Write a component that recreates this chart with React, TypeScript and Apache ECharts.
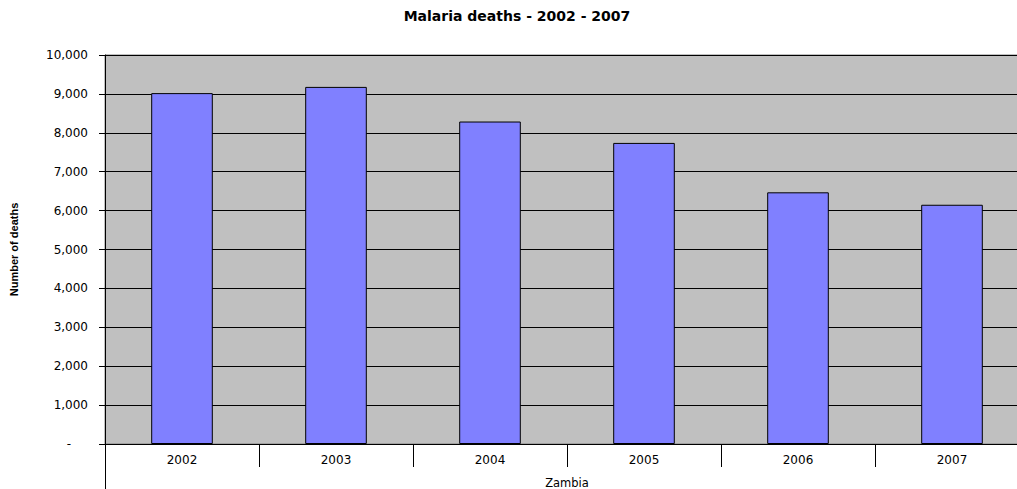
import React, { useEffect, useRef } from "react";
import * as echarts from "echarts";

const TITLE = "Malaria deaths - 2002 - 2007";
const years = ["2002", "2003", "2004", "2005", "2006", "2007"];
const deaths = [9020, 9180, 8290, 7740, 6470, 6150];
const groupLabels = ["Zambia"];
const yAxisName = "Number of deaths";
const yMin = 0;
const yMax = 10000;
const yStep = 1000;

export default function App() {
  const ref = useRef<HTMLDivElement>(null);
  useEffect(() => {
    if (!ref.current) return;
    const chart = echarts.init(ref.current, null, { renderer: "svg" });
    const font = "DejaVu Sans";
    chart.setOption({
      animation: false,
      backgroundColor: "#ffffff",
      graphic: [
        {
          type: "text",
          x: 517,
          y: 16,
          style: {
            text: TITLE,
            fontFamily: font,
            fontWeight: "bold",
            fontSize: 14,
            fill: "#000",
            textAlign: "center",
            textVerticalAlign: "middle",
          },
        },
      ],
      grid: {
        left: 102,
        top: 55,
        right: 11,
        bottom: 45,
        show: true,
        backgroundColor: "#C0C0C0",
        borderColor: "#808080",
        borderWidth: 1,
        containLabel: false,
      },
      xAxis: [
        {
          type: "category",
          data: years,
          position: "bottom",
          boundaryGap: true,
          axisLine: { show: true, lineStyle: { color: "#000", width: 1 } },
          axisTick: {
            show: true,
            interval: 0,
            length: 23,
            alignWithLabel: false,
            lineStyle: { color: "#000", width: 1 },
          },
          axisLabel: {
            interval: 0,
            margin: 10,
            color: "#000",
            fontFamily: font,
            fontSize: 12,
          },
          splitLine: { show: false },
        },
        {
          type: "category",
          data: groupLabels,
          position: "bottom",
          offset: 23,
          boundaryGap: true,
          axisLine: { show: false },
          axisTick: {
            show: true,
            interval: 0,
            length: 22,
            alignWithLabel: false,
            lineStyle: { color: "#000", width: 1 },
          },
          axisLabel: {
            margin: 10,
            color: "#000",
            fontFamily: font,
            fontSize: 11.5,
          },
          splitLine: { show: false },
        },
      ],
      yAxis: {
        type: "value",
        min: yMin,
        max: yMax,
        interval: yStep,
        name: yAxisName,
        nameLocation: "middle",
        nameGap: 86,
        nameTextStyle: {
          fontFamily: "Liberation Sans",
          fontWeight: "bold",
          fontSize: 11,
          color: "#000",
        },
        axisLine: { show: true, lineStyle: { color: "#000", width: 1 } },
        axisTick: { show: true, length: 6, lineStyle: { color: "#000", width: 1 } },
        axisLabel: {
          margin: 17,
          color: "#000",
          fontFamily: font,
          fontSize: 12,
          formatter: (v: number) =>
            v === 0 ? "{z|-}" : v.toLocaleString("en-US"),
          rich: {
            z: {
              fontFamily: font,
              fontSize: 12,
              color: "#000",
              padding: [0, 17, 0, 0],
            },
          },
        },
        splitLine: { show: true, lineStyle: { color: "#000", width: 1 } },
      },
      series: [
        {
          type: "bar",
          data: deaths,
          xAxisIndex: 0,
          barWidth: "40%",
          itemStyle: {
            color: "#8080FF",
            borderColor: "#000",
            borderWidth: 1,
          },
        },
      ],
    });
    return () => chart.dispose();
  }, []);
  return (
    <div
      style={{
        position: "absolute",
        left: 0,
        top: 0,
        width: 1017,
        height: 489,
        overflow: "hidden",
      }}
    >
      <div ref={ref} style={{ width: 1040, height: 489 }} />
    </div>
  );
}
